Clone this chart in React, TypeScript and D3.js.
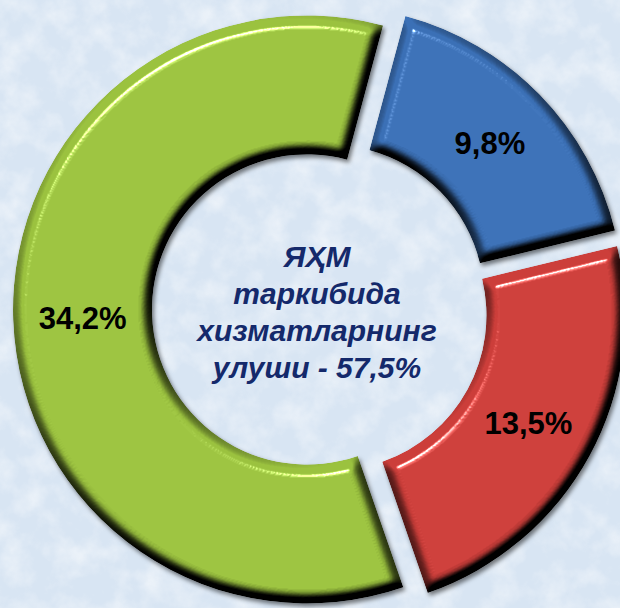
import React from 'react';
import * as d3 from 'd3';

const categories = ['blue', 'red', 'green'];
const values = [9.8, 13.5, 34.2];
const valueLabels = ['9,8%', '13,5%', '34,2%'];
const sliceColors = ['#3b70b6', '#cc3e3a', '#9bc23f'];
const centerLines = ['ЯҲМ', 'таркибида', 'хизматларнинг', 'улуши - 57,5%'];

export default function App() {
  const W = 620;
  const H = 608;
  const cx = 320;
  const cy = 309;
  const outerR = 294;
  const innerR = 155;
  const explode = 13;
  const start = (15 * Math.PI) / 180;

  const pie = d3
    .pie<number>()
    .value((d) => d)
    .sort(null)
    .startAngle(start)
    .endAngle(start + 2 * Math.PI);
  const arcs = pie(values);
  const arc = d3
    .arc<d3.PieArcDatum<number>>()
    .innerRadius(innerR)
    .outerRadius(outerR);

  const font = "'Liberation Sans', Arial, sans-serif";

  return (
    <svg
      width={W}
      height={H}
      viewBox={`0 0 ${W} ${H}`}
      style={{ position: 'absolute', left: 0, top: 0, display: 'block' }}
    >
      <defs>
        <filter id="paper" filterUnits="userSpaceOnUse" x="0" y="0" width={W} height={H}>
          <feTurbulence type="fractalNoise" baseFrequency="0.035" numOctaves="4" seed="7" result="noise" />
          <feColorMatrix
            in="noise"
            type="matrix"
            values="0 0 0 0 1  0 0 0 0 1  0 0 0 0 1  1.4 0 0 0 -0.55"
          />
        </filter>
        <filter
          id="bevel"
          x="-0.1"
          y="-0.1"
          width="1.2"
          height="1.2"
          colorInterpolationFilters="sRGB"
        >
          <feGaussianBlur in="SourceAlpha" stdDeviation="5.5" result="blur" />
          <feDiffuseLighting in="blur" surfaceScale="18" diffuseConstant="1.22" lightingColor="#ffffff" result="diff">
            <feDistantLight azimuth="245" elevation="55" />
          </feDiffuseLighting>
          <feComposite in="SourceGraphic" in2="diff" operator="arithmetic" k1="1" k2="0" k3="0" k4="0" result="shaded" />
          <feSpecularLighting in="blur" surfaceScale="18" specularConstant="1.2" specularExponent="90" lightingColor="#ffffff" result="spec">
            <feDistantLight azimuth="245" elevation="55" />
          </feSpecularLighting>
          <feComposite in="spec" in2="SourceAlpha" operator="in" result="specIn" />
          <feComposite in="shaded" in2="specIn" operator="arithmetic" k1="0" k2="1" k3="0.8" k4="0" result="lit" />
          <feComposite in="lit" in2="SourceAlpha" operator="in" result="litIn" />
          <feGaussianBlur in="SourceAlpha" stdDeviation="2" result="sb" />
          <feOffset in="sb" dx="1.5" dy="2.5" result="so" />
          <feFlood floodColor="#000000" floodOpacity="0.5" />
          <feComposite in2="so" operator="in" result="shadow" />
          <feMerge>
            <feMergeNode in="shadow" />
            <feMergeNode in="litIn" />
          </feMerge>
        </filter>
      </defs>

      <rect x={0} y={0} width={W} height={H} fill="#d8e5f3" />
      <rect x={0} y={0} width={W} height={H} fill="#ffffff" filter="url(#paper)" opacity={0.75} />

      <g transform={`translate(${cx},${cy})`}>
        {arcs.map((a, i) => {
          const mid = (a.startAngle + a.endAngle) / 2;
          const dx = Math.sin(mid) * explode;
          const dy = -Math.cos(mid) * explode;
          const [lx, ly] = arc.centroid(a);
          return (
            <g key={categories[i]} transform={`translate(${dx},${dy})`}>
              <path d={arc(a) || ''} fill={sliceColors[i]} filter="url(#bevel)" />
              <text
                x={lx}
                y={ly}
                dy="0.36em"
                textAnchor="middle"
                fontFamily={font}
                fontWeight="bold"
                fontSize={31}
                fill="#000000"
              >
                {valueLabels[i]}
              </text>
            </g>
          );
        })}
        {centerLines.map((t, i) => (
          <text
            key={t}
            x={-3}
            y={-42 + i * 37}
            textAnchor="middle"
            fontFamily={font}
            fontWeight="bold"
            fontStyle="italic"
            fontSize={30}
            fill="#14296b"
          >
            {t}
          </text>
        ))}
      </g>
    </svg>
  );
}
